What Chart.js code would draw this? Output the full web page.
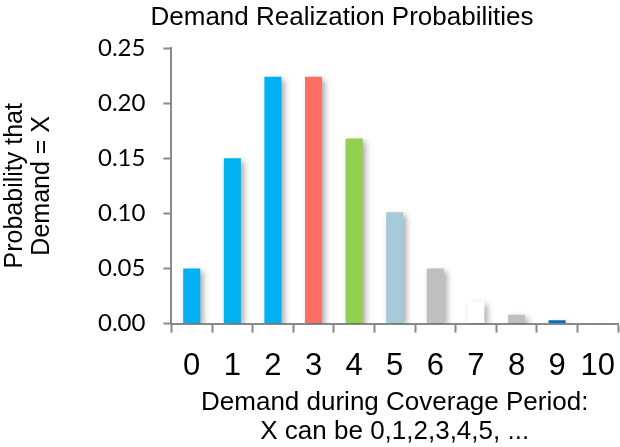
<!DOCTYPE html>
<html>
<head>
<meta charset="utf-8">
<script src="https://cdn.jsdelivr.net/npm/chart.js@4"></script>
<style>
  html, body { margin: 0; padding: 0; background: #fff; }
  #wrap { width: 620px; height: 447px; }
</style>
</head>
<body>
<div id="wrap"><canvas id="demandChart"></canvas></div>
<script>
const demandLabels = ['0', '1', '2', '3', '4', '5', '6', '7', '8', '9', '10'];
const probabilities = [0.050, 0.150, 0.224, 0.224, 0.168, 0.101, 0.050, 0.020, 0.008, 0.003, 0.001];
const barColors = ['#00B0F0', '#00B0F0', '#00B0F0', '#FF6F61', '#92D050', '#A5CAD8', '#BFBFBF', '#FFFFFF', '#BFBFBF', '#0070C0', '#FFFFFF'];
const yTicks = [0, 0.05, 0.10, 0.15, 0.20, 0.25];

const axisGray = '#898989';

// soft drop shadow under the bars, like the spreadsheet original
const barShadow = {
  id: 'barShadow',
  beforeDatasetsDraw(chart) {
    const ctx = chart.ctx;
    ctx.save();
    ctx.shadowColor = 'rgba(0, 0, 0, 0.35)';
    ctx.shadowBlur = 6;
    ctx.shadowOffsetX = 3;
    ctx.shadowOffsetY = 3;
  },
  afterDatasetsDraw(chart) {
    chart.ctx.restore();
  }
};

// title sits right of the canvas centre, not over the plot
const offsetTitle = {
  id: 'offsetTitle',
  afterDraw(chart) {
    const ctx = chart.ctx;
    ctx.save();
    ctx.font = '26px "Liberation Sans", Arial, sans-serif';
    ctx.fillStyle = '#000';
    ctx.textAlign = 'center';
    ctx.textBaseline = 'middle';
    ctx.fillText('Demand Realization Probabilities', chart.width / 2 + 32, 18);
    ctx.restore();
  }
};

const ctx = document.getElementById('demandChart').getContext('2d');
new Chart(ctx, {
  type: 'bar',
  data: {
    labels: demandLabels,
    datasets: [{
      label: 'Probability',
      data: probabilities,
      backgroundColor: barColors,
      borderWidth: 0,
      barPercentage: 0.42,
      categoryPercentage: 1
    }]
  },
  options: {
    responsive: true,
    maintainAspectRatio: false,
    animation: false,
    layout: {
      padding: { top: 48, right: 2, left: 0, bottom: 0 }
    },
    scales: {
      x: {
        // labels fit inside their categories, so no side overhang is needed
        afterFit(axis) {
          axis.paddingLeft = 0;
          axis.paddingRight = 0;
        },
        grid: {
          drawOnChartArea: false,
          drawTicks: true,
          tickLength: 9,
          tickColor: axisGray,
          tickWidth: 2
        },
        border: { color: axisGray, width: 2 },
        ticks: {
          color: '#000',
          padding: 15,
          maxRotation: 0,
          font: { family: '"Liberation Sans", Arial, sans-serif', size: 31 }
        },
        title: {
          display: true,
          text: ['Demand during Coverage Period:', 'X can be 0,1,2,3,4,5, ...'],
          color: '#000',
          font: { family: '"Liberation Sans", Arial, sans-serif', size: 26, lineHeight: 1.1 },
          padding: { top: -11, bottom: 1 }
        }
      },
      y: {
        min: 0,
        max: 0.25,
        afterBuildTicks(axis) {
          axis.ticks = yTicks.map(v => ({ value: v }));
        },
        grid: {
          drawOnChartArea: false,
          drawTicks: true,
          tickLength: 8,
          tickColor: axisGray,
          tickWidth: 2
        },
        border: { color: axisGray, width: 2 },
        ticks: {
          color: '#000',
          padding: 18,
          callback: value => value.toFixed(2),
          font: { family: 'Lato, "Open Sans", sans-serif', size: 24 }
        },
        title: {
          display: true,
          text: ['Probability that', 'Demand = X'],
          color: '#000',
          font: { family: '"Liberation Sans", Arial, sans-serif', size: 25, lineHeight: 1.08 },
          padding: { top: 2, bottom: 24 }
        }
      }
    },
    plugins: {
      legend: { display: false },
      title: { display: false },
      tooltip: { enabled: false }
    }
  },
  plugins: [barShadow, offsetTitle]
});
</script>
</body>
</html>
